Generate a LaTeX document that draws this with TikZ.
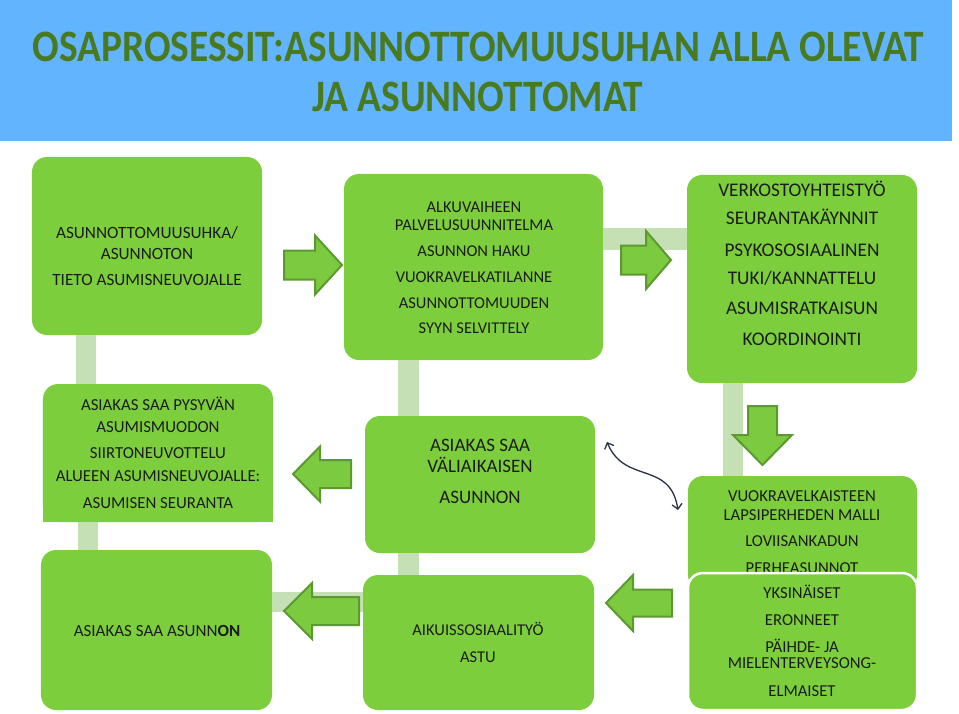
\documentclass[tikz,border=0pt]{standalone}
\usepackage{fontspec}
\setmainfont{Carlito}
\usepackage{graphicx}
\usetikzlibrary{arrows.meta,calc}
\definecolor{titlebg}{HTML}{63B4FE}
\definecolor{titlefg}{HTML}{4A7A1F}
\definecolor{boxgreen}{HTML}{7DCE3C}
\definecolor{paleg}{HTML}{C5E0B4}
\definecolor{arrfill}{HTML}{7BCA3F}
\definecolor{arrline}{HTML}{5C9A30}
\definecolor{txtcol}{HTML}{1C1C1C}
\definecolor{curvecol}{HTML}{2A3044}
\newcommand\fs[1]{\fontsize{#1bp}{#1bp}\selectfont}
\newcommand\tline[4]{\node[tx] (#1) at (#2,#3) {#4};}
\newcommand\harrow[6]{\filldraw[blockarrow] (#1,#4-#5) -- (#2,#4-#5) -- (#2,#4-#6) -- (#3,#4) -- (#2,#4+#6) -- (#2,#4+#5) -- (#1,#4+#5) -- cycle;}
\newcommand\varrow[6]{\filldraw[blockarrow] (#4-#5,#1) -- (#4-#5,#2) -- (#4-#6,#2) -- (#4,#3) -- (#4+#6,#2) -- (#4+#5,#2) -- (#4+#5,#1) -- cycle;}
\tikzset{
  box/.style={fill=boxgreen, draw=none, rounded corners=15bp, inner sep=0pt},
  tx/.style={anchor=base, inner sep=0pt, text=txtcol},
  pale/.style={fill=paleg},
  blockarrow/.style={fill=arrfill, draw=arrline, line width=2bp, line join=miter},
  titletx/.style={anchor=base, inner sep=0pt, text=titlefg, font=\fs{39.4}\bfseries},
  curvearrow/.style={draw=curvecol, line width=1.3bp, {Straight Barb[length=5bp,width=10bp]}-{Straight Barb[length=5bp,width=10bp]}}
}
\begin{document}
\begin{tikzpicture}[x=1bp,y=-1bp]
\useasboundingbox (0,0) rectangle (959,714);
\fill[white] (0,0) rectangle (959,714);
% title band
\node[fill=titlebg, minimum width=952bp, minimum height=141bp, inner sep=0pt, anchor=north west] (band) at (0,0) {};
\node[titletx] (title1) at (478,62) {\scalebox{1}[1.14]{OSAPROSESSIT:ASUNNOTTOMUUSUHAN ALLA OLEVAT}};
\node[titletx] (title2) at (478,111.5) {\scalebox{1}[1.14]{JA ASUNNOTTOMAT}};
% boxes
\node[box, minimum width=230bp, minimum height=178bp] (b1) at (147,246) {};
\node[box, minimum width=259bp, minimum height=186bp] (b2) at (473.5,267) {};
\node[box, minimum width=230bp, minimum height=208bp] (b3) at (802,279) {};
\node[box, minimum width=230bp, minimum height=138bp] (b4) at (158,453) {};
\fill[boxgreen] (b4.west) rectangle (b4.south east);
\node[box, minimum width=230bp, minimum height=137bp] (b5) at (480,484.5) {};
\node[box, minimum width=229bp, minimum height=114bp] (b6) at (802.5,533) {};
\node[box, minimum width=231bp, minimum height=160bp] (b8) at (156.5,630) {};
\node[box, minimum width=231bp, minimum height=135bp] (b9) at (478.5,642.5) {};
% pale connector bars
\fill[pale] (76,0 |- b1.south) rectangle (96,0 |- b4.north);
\fill[pale] (78,0 |- b4.south) rectangle (98,0 |- b8.north);
\fill[pale] (398,0 |- b2.south) rectangle (419,0 |- b5.north);
\fill[pale] (398,0 |- b5.south) rectangle (419,0 |- b9.north);
\fill[pale] (723,0 |- b3.south) rectangle (743,0 |- b6.north);
\fill[pale] (b2.east |- 0,228) rectangle (b3.west |- 0,250);
\fill[pale] (b8.east |- 0,592) rectangle (b9.west |- 0,612);
% block arrows
\harrow{284}{315}{342}{265}{14.5}{29.5}
\harrow{621}{646}{671}{260}{14.5}{29}
\varrow{406}{435}{465}{762.5}{14.5}{29.5}
\harrow{351}{320}{293}{474}{14}{27.5}
\harrow{672}{633}{606}{603}{13.5}{28}
\harrow{359}{312}{284}{611}{14}{28}
% texts
\begin{scope}[tx/.append style={font=\fs{17.2}}]
\tline{t1a}{147}{238.5}{ASUNNOTTOMUUSUHKA/}
\tline{t1b}{147}{259.5}{ASUNNOTON}
\tline{t1c}{147}{285.5}{TIETO ASUMISNEUVOJALLE}
\end{scope}
\begin{scope}[tx/.append style={font=\fs{16.5}}]
\tline{t2a}{474}{212.3}{ALKUVAIHEEN}
\tline{t2b}{474}{230.3}{PALVELUSUUNNITELMA}
\tline{t2c}{474}{256.3}{ASUNNON HAKU}
\tline{t2d}{474}{282.3}{VUOKRAVELKATILANNE}
\tline{t2e}{474}{308.3}{ASUNNOTTOMUUDEN}
\tline{t2f}{474}{333.3}{SYYN SELVITTELY}
\end{scope}
\begin{scope}[tx/.append style={font=\fs{19.3}}]
\tline{t3a}{802}{196.2}{VERKOSTOYHTEISTYÖ}
\tline{t3b}{802}{224.2}{SEURANTAKÄYNNIT}
\tline{t3c}{802}{256.2}{PSYKOSOSIAALINEN}
\tline{t3d}{802}{284.2}{TUKI/KANNATTELU}
\tline{t3e}{802}{314.2}{ASUMISRATKAISUN}
\tline{t3f}{802}{345.2}{KOORDINOINTI}
\end{scope}
\begin{scope}[tx/.append style={font=\fs{16.8}}]
\tline{t4a}{158}{410.4}{ASIAKAS SAA PYSYVÄN}
\tline{t4b}{158}{432.4}{ASUMISMUODON}
\tline{t4c}{158}{458.4}{SIIRTONEUVOTTELU}
\tline{t4d}{158}{481.4}{ALUEEN ASUMISNEUVOJALLE:}
\tline{t4e}{158}{508.4}{ASUMISEN SEURANTA}
\end{scope}
\begin{scope}[tx/.append style={font=\fs{19}}]
\tline{t5a}{480}{451.1}{ASIAKAS SAA}
\tline{t5b}{480}{472.1}{VÄLIAIKAISEN}
\tline{t5c}{480}{503.1}{ASUNNON}
\end{scope}
\begin{scope}[tx/.append style={font=\fs{16.7}}]
\tline{t6a}{802}{501.3}{VUOKRAVELKAISTEEN}
\tline{t6b}{802}{520.3}{LAPSIPERHEDEN MALLI}
\tline{t6c}{802}{546.3}{LOVIISANKADUN}
\tline{t6d}{802}{573.3}{PERHEASUNNOT}
\end{scope}
% box 7 overlaps box 6
\node[box, draw=white, line width=2.5bp, minimum width=229bp, minimum height=137bp] (b7) at (802.5,641.5) {};
\begin{scope}[tx/.append style={font=\fs{16.7}}]
\tline{t7a}{802}{598.3}{YKSINÄISET}
\tline{t7b}{802}{625.3}{ERONNEET}
\tline{t7c}{802}{652.3}{PÄIHDE- JA}
\tline{t7d}{802}{668.3}{MIELENTERVEYSONG-}
\tline{t7e}{802}{696.3}{ELMAISET}
\end{scope}
\begin{scope}[tx/.append style={font=\fs{17}}]
\tline{t8a}{157}{636.4}{ASIAKAS SAA ASUNN\textbf{ON}}
\end{scope}
\begin{scope}[tx/.append style={font=\fs{16.5}}]
\tline{t9a}{478}{635.3}{AIKUISSOSIAALITYÖ}
\tline{t9b}{478}{662.3}{ASTU}
\end{scope}
% curved double arrow between box 5 and box 6
\coordinate (c1) at (607,442);
\coordinate (c2) at (678,510);
\draw[curvearrow] (c1) .. controls (625,485) and (670,460) .. (c2);
\end{tikzpicture}
\end{document}
